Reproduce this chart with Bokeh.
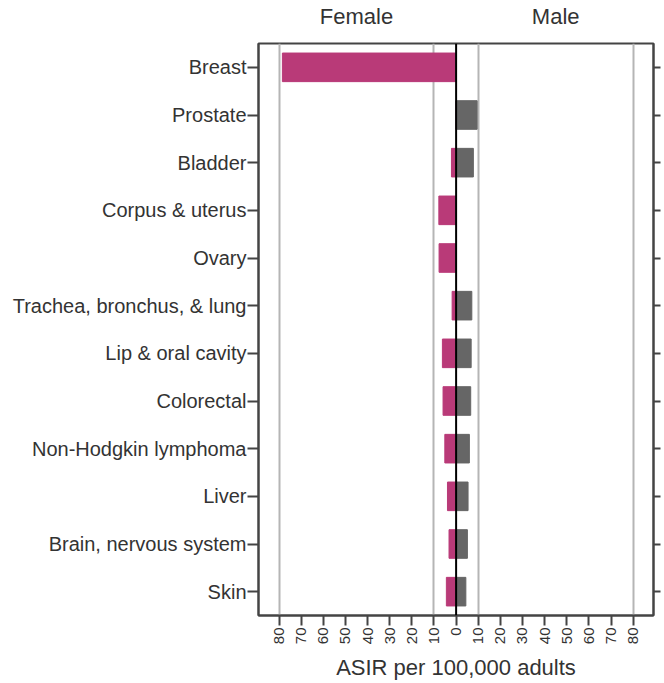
import math
from bokeh.plotting import figure
from bokeh.models import (Range1d, FixedTicker, LinearAxis, Span, ColumnDataSource)
from bokeh.embed import file_html
from bokeh.resources import INLINE

categories = ["Breast", "Prostate", "Bladder", "Corpus & uterus", "Ovary",
              "Trachea, bronchus, & lung", "Lip & oral cavity", "Colorectal",
              "Non-Hodgkin lymphoma", "Liver", "Brain, nervous system", "Skin"]
female = [78.5, 0.0, 2.1, 7.8, 7.7, 1.8, 6.2, 5.9, 5.1, 3.9, 3.2, 4.4]
male = [0.0, 9.5, 7.8, 0.0, 0.0, 7.1, 6.8, 6.6, 6.0, 5.4, 5.1, 4.4]
x_ticks = [-80, -70, -60, -50, -40, -30, -20, -10, 0, 10, 20, 30, 40, 50, 60, 70, 80]
grid_ticks = [-80, -10, 10, 80]
panel_titles = ["Female", "Male"]

FONT = "Liberation Sans"
TXT = "#333333"
EDGE = "#444444"

n = len(categories)
# each category occupies 2 units; centres at odd integers, first category on top
ypos = [2 * (n - 1 - i) + 1 for i in range(n)]

src = ColumnDataSource(dict(y=ypos,
                            fl=[-v for v in female], fz=[0] * n,
                            mr=male, mz=[0] * n))

p = figure(width=664, height=683, output_backend="svg", toolbar_location=None,
           x_range=Range1d(-89.3, 89.2), y_range=Range1d(0, 2 * n),
           min_border_left=258, min_border_right=11, min_border_top=43,
           min_border_bottom=65, x_axis_location="below")

p.hbar(y="y", left="fl", right="fz", height=1.2, source=src,
       fill_color="#B93A78", line_color="#B93A78")
p.hbar(y="y", left="mz", right="mr", height=1.2, source=src,
       fill_color="#666666", line_color="#666666")

p.add_layout(Span(location=0, dimension="height", line_color="black", line_width=2))

p.outline_line_color = EDGE
p.outline_line_width = 2
p.background_fill_color = "white"
p.border_fill_color = "white"

p.ygrid.grid_line_color = None
p.xgrid.ticker = FixedTicker(ticks=grid_ticks)
p.xgrid.grid_line_color = "#b5b5b5"
p.xgrid.grid_line_width = 2

# bottom axis
xa = p.xaxis[0]
xa.ticker = FixedTicker(ticks=x_ticks)
xa.major_label_overrides = {t: str(abs(t)) for t in x_ticks}
xa.major_label_orientation = math.pi / 2
xa.major_label_text_font = FONT
xa.major_label_text_font_size = "15px"
xa.major_label_text_color = TXT
xa.major_label_standoff = 2
xa.major_tick_out = 10
xa.major_tick_in = 0
xa.major_tick_line_color = EDGE
xa.major_tick_line_width = 2
xa.minor_tick_line_color = None
xa.axis_line_color = EDGE
xa.axis_line_width = 2
xa.axis_label = "ASIR per 100,000 adults"
xa.axis_label_text_font = FONT
xa.axis_label_text_font_size = "22px"
xa.axis_label_text_font_style = "normal"
xa.axis_label_text_color = TXT
xa.axis_label_standoff = 8

# left axis with category names
ya = p.yaxis[0]
ya.ticker = FixedTicker(ticks=ypos)
ya.major_label_overrides = {y: c for y, c in zip(ypos, categories)}
ya.major_label_text_font = FONT
ya.major_label_text_font_size = "20px"
ya.major_label_text_color = TXT
ya.major_label_standoff = 1
ya.major_tick_out = 11
ya.major_tick_in = 0
ya.major_tick_line_color = EDGE
ya.major_tick_line_width = 2
ya.minor_tick_line_color = None
ya.axis_line_color = EDGE
ya.axis_line_width = 2

# right axis: tick marks only (minor ticks at category centres, no labels)
ra = LinearAxis(ticker=FixedTicker(ticks=[], minor_ticks=ypos))
ra.major_tick_line_color = None
ra.major_label_text_font_size = "10px"
ra.major_label_standoff = 0
ra.minor_tick_out = 7
ra.minor_tick_in = 0
ra.minor_tick_line_color = EDGE
ra.minor_tick_line_width = 2
ra.axis_line_color = EDGE
ra.axis_line_width = 2
p.add_layout(ra, "right")

# panel titles above
ta = LinearAxis(ticker=FixedTicker(ticks=[-45, 45]))
ta.major_label_overrides = {-45: panel_titles[0], 45: panel_titles[1]}
ta.major_label_text_font = FONT
ta.major_label_text_font_size = "22px"
ta.major_label_text_color = TXT
ta.major_label_standoff = 9
ta.major_tick_line_color = None
ta.minor_tick_line_color = None
ta.axis_line_color = None
p.add_layout(ta, "above")

open("out.html", "w").write(file_html(p, INLINE))
